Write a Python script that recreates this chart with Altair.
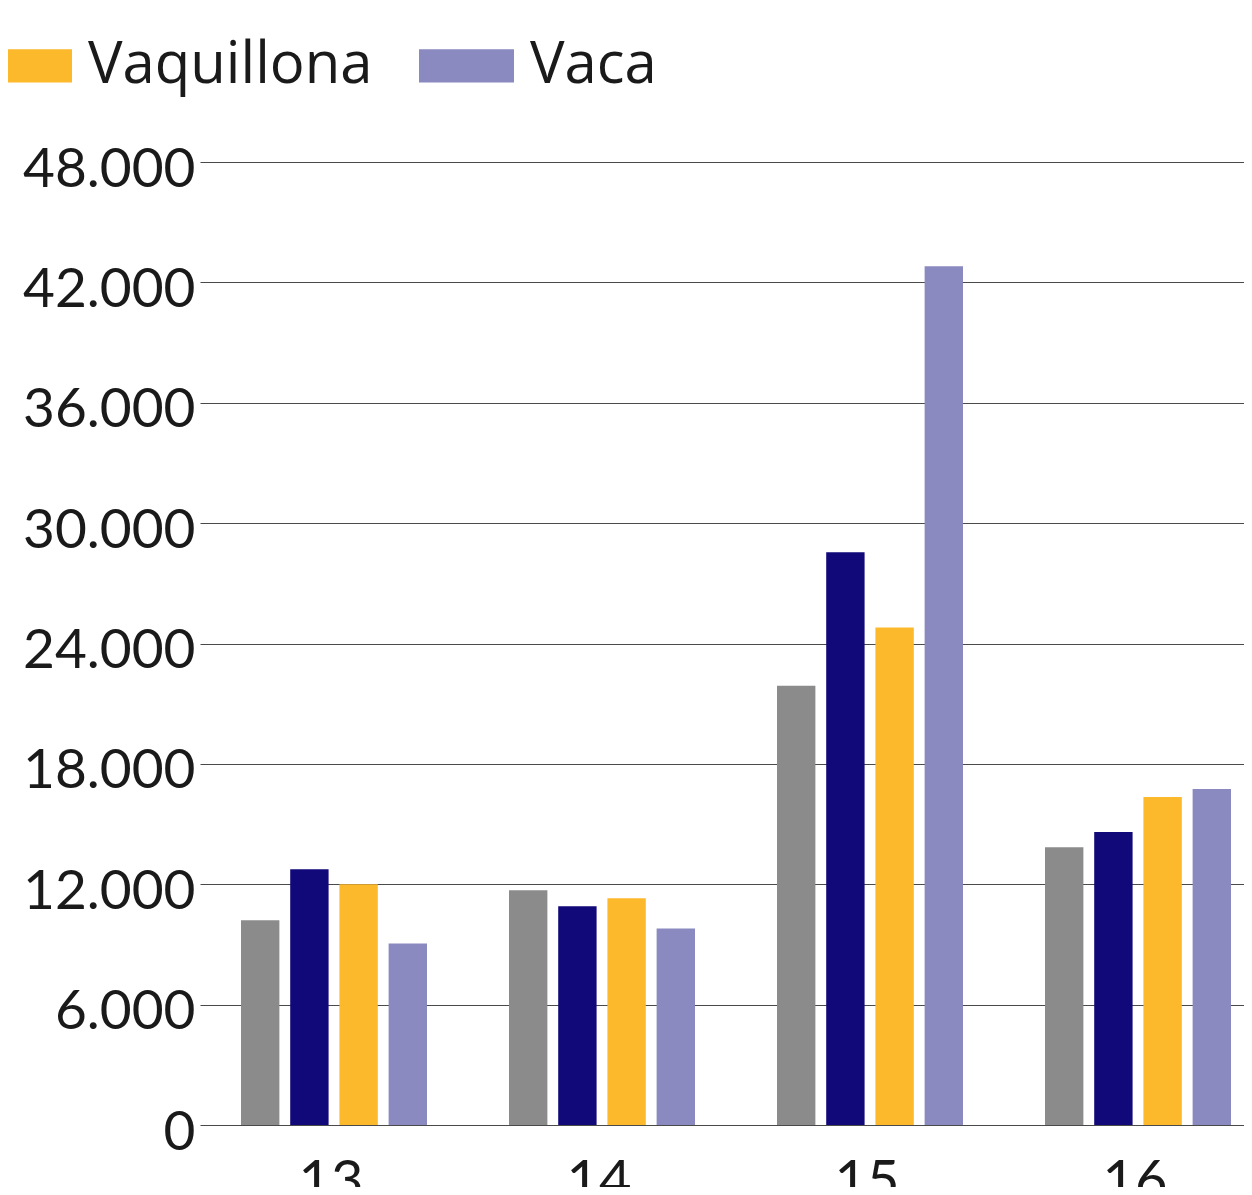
import altair as alt
import pandas as pd

groups = ["13", "14", "15", "16"]
series = ["Novillo", "Novillito", "Vaquillona", "Vaca"]
colors = ["#8b8b8b", "#11087a", "#fdb92c", "#8a89c0"]
values = {
    "Novillo":    [10200, 11700, 21900, 13850],
    "Novillito":  [12750, 10900, 28550, 14600],
    "Vaquillona": [12000, 11300, 24800, 16350],
    "Vaca":       [9050,  9800,  42800, 16750],
}
y_ticks = [0, 6000, 12000, 18000, 24000, 30000, 36000, 42000, 48000]

rows = []
for s in series:
    for g, v in zip(groups, values[s]):
        rows.append({"grupo": g, "serie": s, "valor": v})
df = pd.DataFrame(rows)

AXIS_FONT = "Lato"
LEG_FONT = "Open Sans"

chart = alt.Chart(df).mark_bar().encode(
    x=alt.X("grupo:N", sort=groups,
            scale=alt.Scale(range=[0, 1072], paddingInner=0.306, paddingOuter=0.153),
            axis=alt.Axis(title=None, labelAngle=0, ticks=False, domain=False,
                          labelPadding=30, labelFontSize=56, labelFont=AXIS_FONT,
                          labelColor="#1a1a1a", grid=False, labelOffset=-3)),
    xOffset=alt.XOffset("serie:N", sort=series,
                        scale=alt.Scale(paddingInner=0.22, paddingOuter=0)),
    y=alt.Y("valor:Q", scale=alt.Scale(domain=[0, 48000], nice=False),
            axis=alt.Axis(title=None, values=y_ticks, ticks=False, domain=False,
                          labelPadding=5, labelFontSize=55, labelFont=AXIS_FONT,
                          labelColor="#1a1a1a", labelOffset=7, labelLimit=400,
                          labelExpr="replace(format(datum.value, ','), ',', '.')",
                          gridColor="#4a4a4a", gridWidth=1.2)),
    color=alt.Color("serie:N", sort=series,
                    scale=alt.Scale(domain=series, range=colors),
                    legend=alt.Legend(title=None, values=["Vaquillona", "Vaca"],
                                      orient="none", direction="horizontal", columns=2,
                                      legendX=-223, legendY=-144,
                                      symbolType="M-1,-0.35H1V0.35H-1Z",
                                      symbolSize=9025, symbolStrokeWidth=0,
                                      labelFont=LEG_FONT, labelFontSize=58,
                                      labelColor="#1a1a1a", labelOffset=16,
                                      columnPadding=46, labelLimit=600)),
).properties(
    width=1044, height=963,
    padding={"left": 192, "top": 154, "right": 0, "bottom": 62},
    autosize=alt.AutoSizeParams(type="none"),
).configure_view(stroke=None)

chart.save("out.html", embed_options={"renderer": "svg", "actions": False})
